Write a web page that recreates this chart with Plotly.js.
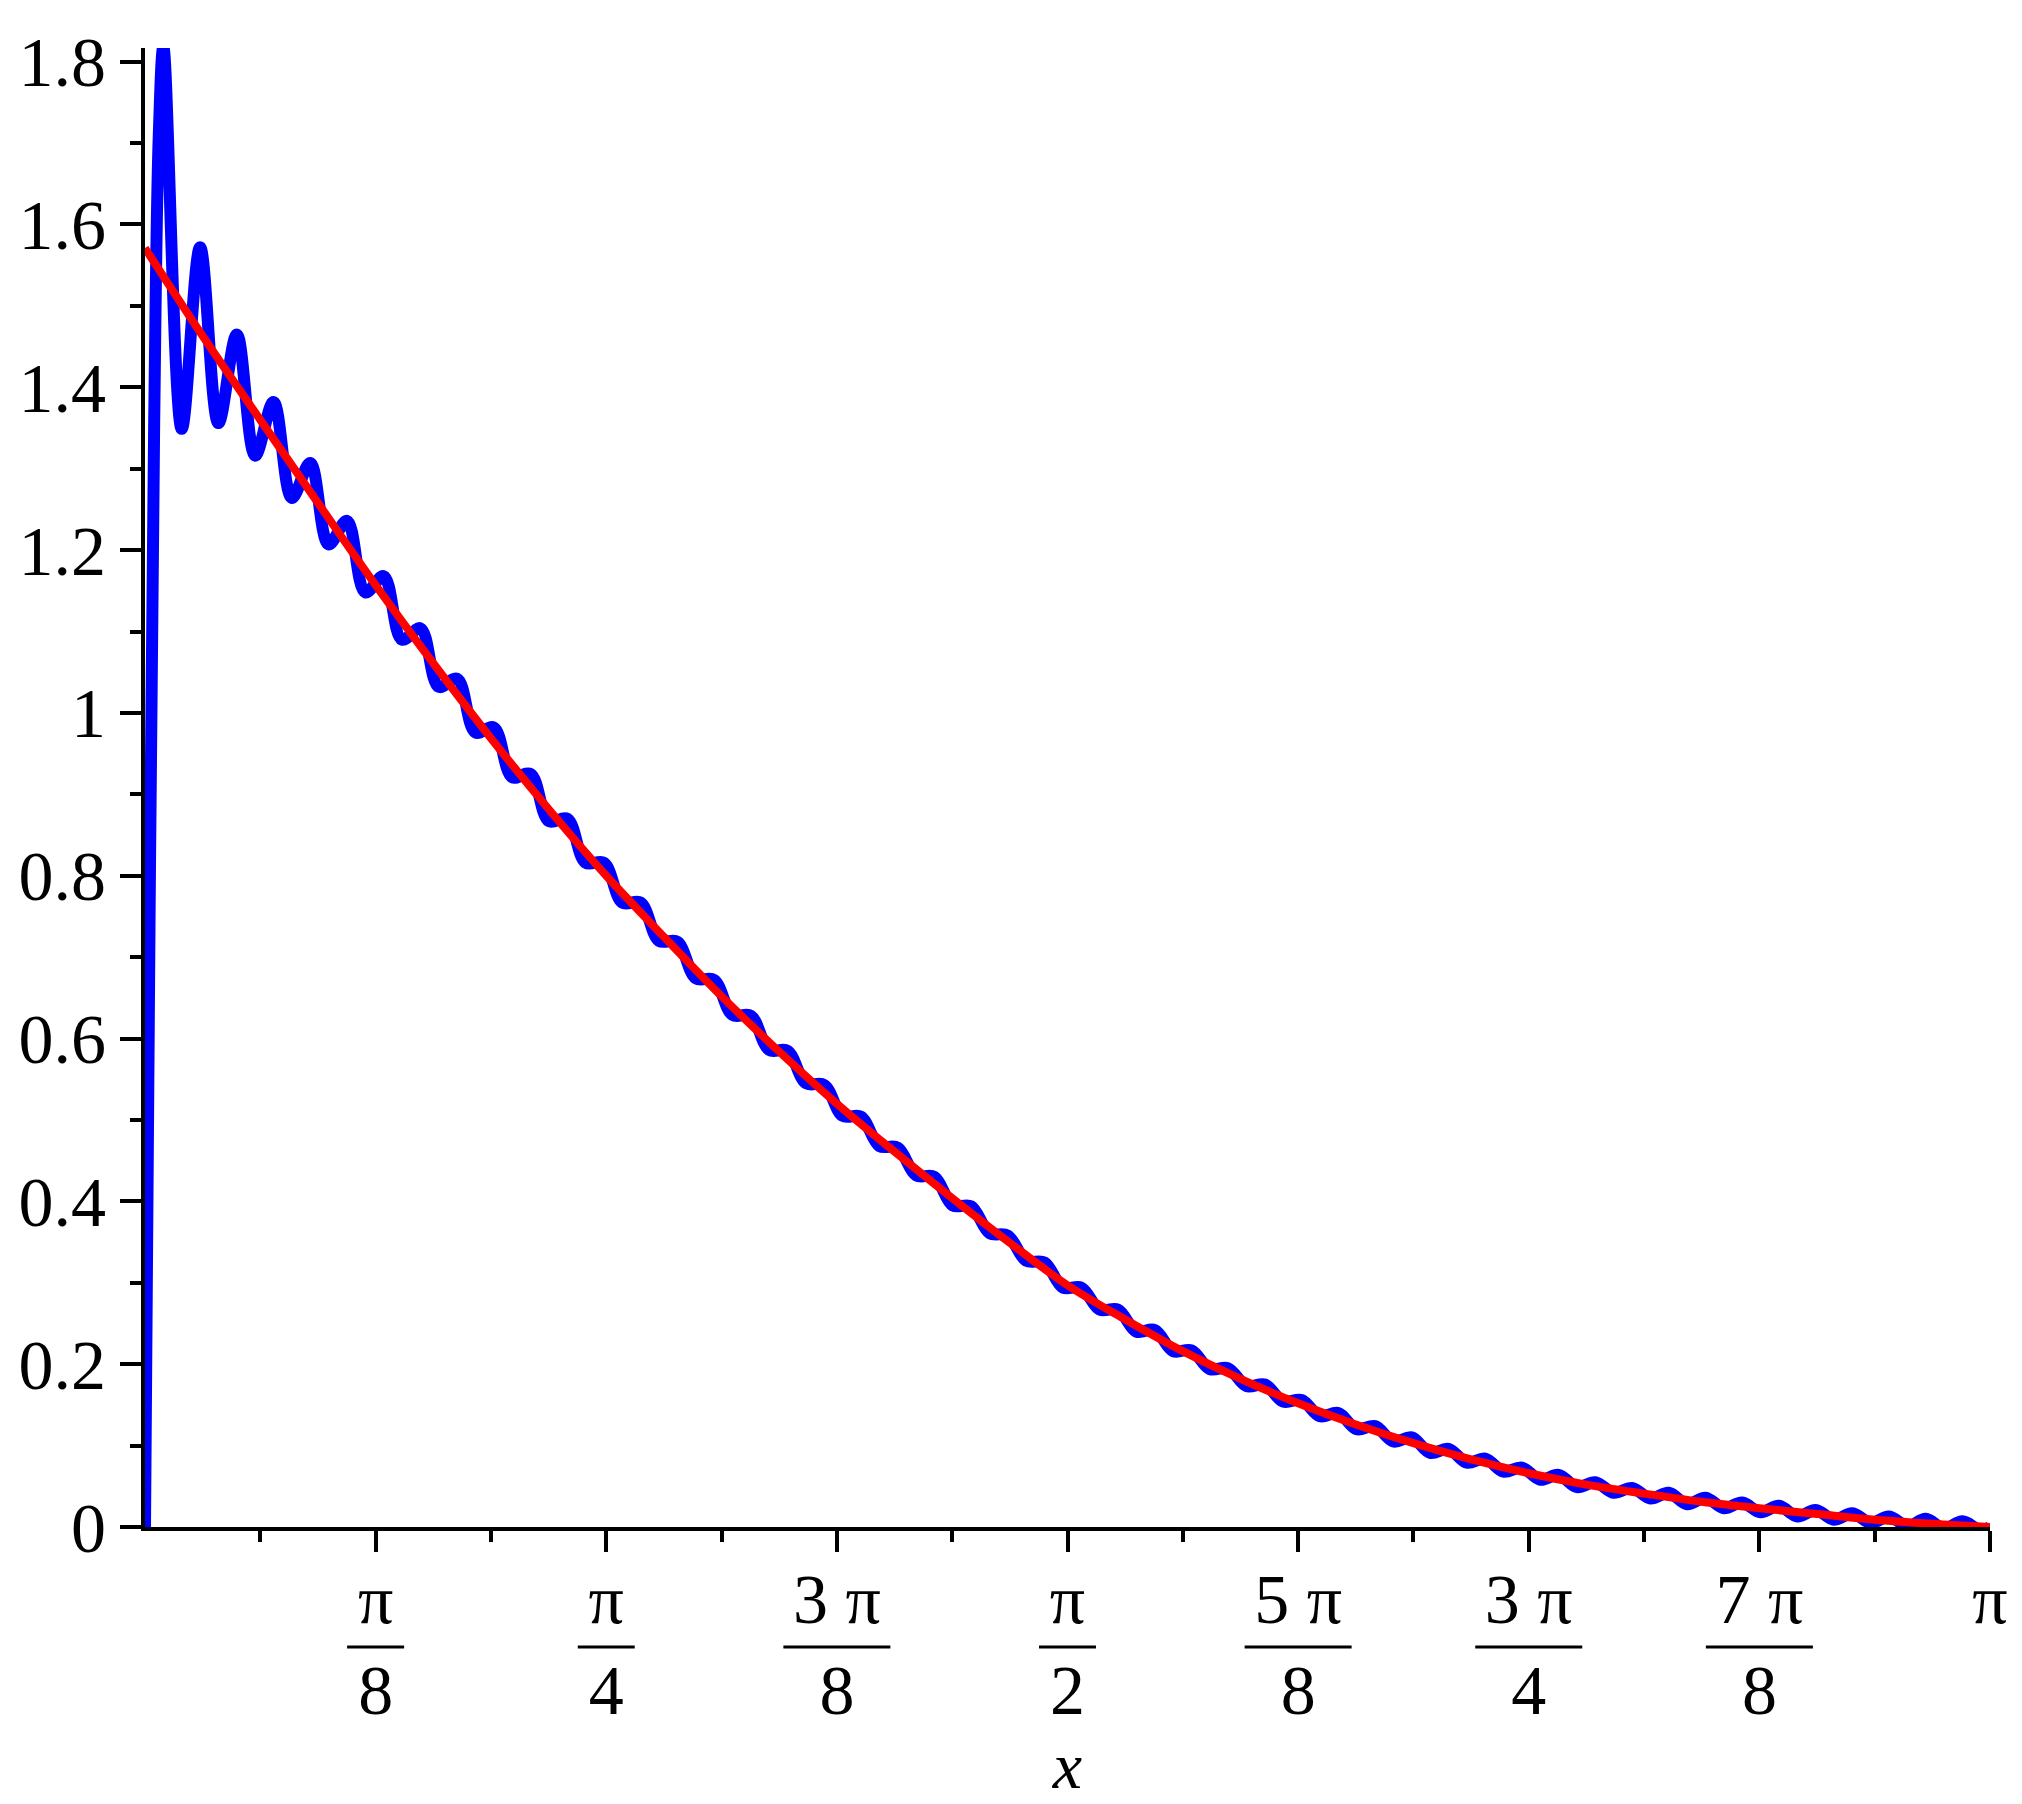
<!DOCTYPE html>
<html>
<head>
<meta charset="utf-8">
<script src="https://cdn.plot.ly/plotly-3.0.1.min.js"></script>
<style>
html,body{margin:0;padding:0;background:#fff;}
#chart{width:2022px;height:1804px;}
</style>
</head>
<body>
<div id="chart"></div>
<script>
// Partial Fourier sum (blue): read extremes (peaks / troughs) of the oscillating curve
const blueX = [0, 0.0078, 0.0156, 0.0234,
 0.0313, 0.0625, 0.0938, 0.1250, 0.1563, 0.1876, 0.2188, 0.2501, 0.2813, 0.3126,
 0.3439, 0.3751, 0.4064, 0.4376, 0.4689, 0.5002, 0.5314, 0.5627, 0.5939, 0.6252,
 0.6565, 0.6877, 0.7190, 0.7502, 0.7815, 0.8128, 0.8440, 0.8753, 0.9065, 0.9378,
 0.9691, 1.0003, 1.0316, 1.0628, 1.0941, 1.1254, 1.1566, 1.1879, 1.2191, 1.2504,
 1.2817, 1.3129, 1.3442, 1.3754, 1.4067, 1.4380, 1.4692, 1.5005, 1.5317, 1.5630,
 1.5943, 1.6255, 1.6568, 1.6880, 1.7193, 1.7506, 1.7818, 1.8131, 1.8443, 1.8756,
 1.9069, 1.9381, 1.9694, 2.0006, 2.0319, 2.0632, 2.0944, 2.1257, 2.1569, 2.1882,
 2.2195, 2.2507, 2.2820, 2.3132, 2.3445, 2.3758, 2.4070, 2.4383, 2.4695, 2.5008,
 2.5321, 2.5633, 2.5946, 2.6258, 2.6571, 2.6884, 2.7196, 2.7509, 2.7821, 2.8134,
 2.8447, 2.8759, 2.9072, 2.9384, 2.9697, 3.0010, 3.0322, 3.0635, 3.0947, 3.1260,
 3.1416];
const blueY = [0, 0.751, 1.355, 1.708,
 1.818, 1.349, 1.572, 1.356, 1.465, 1.316, 1.382, 1.264, 1.307, 1.207,
 1.236, 1.148, 1.168, 1.090, 1.104, 1.032, 1.042, 0.976, 0.982, 0.921,
 0.925, 0.867, 0.870, 0.816, 0.816, 0.767, 0.767, 0.720, 0.719, 0.674,
 0.672, 0.629, 0.628, 0.586, 0.585, 0.545, 0.543, 0.505, 0.504, 0.468,
 0.466, 0.432, 0.430, 0.395, 0.394, 0.361, 0.358, 0.327, 0.325, 0.294,
 0.294, 0.267, 0.267, 0.240, 0.242, 0.216, 0.217, 0.194, 0.195, 0.173,
 0.175, 0.154, 0.156, 0.136, 0.140, 0.120, 0.124, 0.105, 0.110, 0.091,
 0.096, 0.079, 0.084, 0.068, 0.073, 0.058, 0.064, 0.049, 0.055, 0.042,
 0.048, 0.035, 0.042, 0.028, 0.036, 0.023, 0.030, 0.018, 0.026, 0.013,
 0.021, 0.009, 0.017, 0.005, 0.013, 0.001, 0.010, -0.002, 0.007, -0.004,
 0];

// Target function (red)
const redX = [0, 0.0982, 0.1963, 0.2945, 0.3927, 0.4909, 0.5890, 0.6872, 0.7854,
 0.8836, 0.9817, 1.0799, 1.1781, 1.2763, 1.3744, 1.4726, 1.5708, 1.6690, 1.7671,
 1.8653, 1.9635, 2.0617, 2.1598, 2.2580, 2.3562, 2.4544, 2.5525, 2.6507, 2.7489,
 2.8471, 2.9452, 3.0434, 3.1416];
const redY = [1.571, 1.463, 1.360, 1.258, 1.157, 1.061, 0.969, 0.882, 0.800,
 0.725, 0.652, 0.584, 0.520, 0.461, 0.404, 0.349, 0.297, 0.255, 0.216,
 0.182, 0.152, 0.126, 0.103, 0.083, 0.066, 0.052, 0.041, 0.031, 0.023,
 0.016, 0.009, 0.004, 0.000];

// Tick positions and labels
const xTickVals = [Math.PI/8, Math.PI/4, 3*Math.PI/8, Math.PI/2, 5*Math.PI/8, 3*Math.PI/4, 7*Math.PI/8, Math.PI];
const xTickNum = ["π", "π", "3 π", "π", "5 π", "3 π", "7 π", "π"];
const xTickDen = ["8", "4", "8", "2", "8", "4", "8", ""];
const xMinorVals = [Math.PI/16, 3*Math.PI/16, 5*Math.PI/16, 7*Math.PI/16, 9*Math.PI/16, 11*Math.PI/16, 13*Math.PI/16, 15*Math.PI/16];
const yTickVals = [0, 0.2, 0.4, 0.6, 0.8, 1, 1.2, 1.4, 1.6, 1.8];
const yTickText = ["0", "0.2", "0.4", "0.6", "0.8", "1", "1.2", "1.4", "1.6", "1.8"];
const yMinorVals = [0.1, 0.3, 0.5, 0.7, 0.9, 1.1, 1.3, 1.5, 1.7];

const FONT = "Liberation Serif, Times New Roman, serif";
const xTickText = xTickNum.map((n, i) => xTickDen[i] ? n + "<br>" + xTickDen[i] : n);

// fraction bars under numerators
const shapes = [];
xTickVals.forEach((v, i) => {
  if (!xTickDen[i]) return;
  const half = xTickNum[i].length > 1 ? 0.0911 : 0.0485;
  shapes.push({type: "line", xref: "x", yref: "paper", x0: v - half, x1: v + half,
    y0: -0.0811, y1: -0.0811, line: {color: "#000", width: 3}});
});

const traces = [
  {x: blueX, y: blueY, type: "scatter", mode: "lines",
   line: {color: "#0000FF", width: 12, shape: "spline", smoothing: 1}, hoverinfo: "skip"},
  {x: redX, y: redY, type: "scatter", mode: "lines",
   line: {color: "#FF0000", width: 8, shape: "spline", smoothing: 1}, hoverinfo: "skip"}
];

const layout = {
  width: 2022, height: 1804,
  margin: {l: 145, r: 32, t: 48, b: 277, pad: 0},
  paper_bgcolor: "#fff", plot_bgcolor: "#fff",
  showlegend: false,
  font: {family: FONT, color: "#000", size: 70},
  xaxis: {
    range: [0, Math.PI], showgrid: false, zeroline: false,
    showline: true, linecolor: "#000", linewidth: 4,
    ticks: "outside", ticklen: 21, tickwidth: 4, tickcolor: "#000",
    tickmode: "array", tickvals: xTickVals, ticktext: xTickText,
    tickfont: {family: FONT, size: 70, color: "#000"},
    ticklabelstandoff: -13,
    minor: {tickmode: "array", tickvals: xMinorVals, ticks: "outside", ticklen: 11, tickwidth: 4, tickcolor: "#000", showgrid: false},
    title: {text: "<i>x</i>", font: {family: FONT, size: 66, color: "#000"}, standoff: 14},
    fixedrange: true
  },
  yaxis: {
    range: [0, 1.8168], showgrid: false, zeroline: false,
    showline: true, linecolor: "#000", linewidth: 4,
    ticks: "outside", ticklen: 21, tickwidth: 4, tickcolor: "#000",
    tickmode: "array", tickvals: yTickVals, ticktext: yTickText,
    tickfont: {family: FONT, size: 70, color: "#000"},
    ticklabelstandoff: 0,
    minor: {tickmode: "array", tickvals: yMinorVals, ticks: "outside", ticklen: 11, tickwidth: 4, tickcolor: "#000", showgrid: false},
    fixedrange: true
  },
  shapes: shapes
};

Plotly.newPlot("chart", traces, layout, {staticPlot: true, displayModeBar: false});
</script>
</body>
</html>
